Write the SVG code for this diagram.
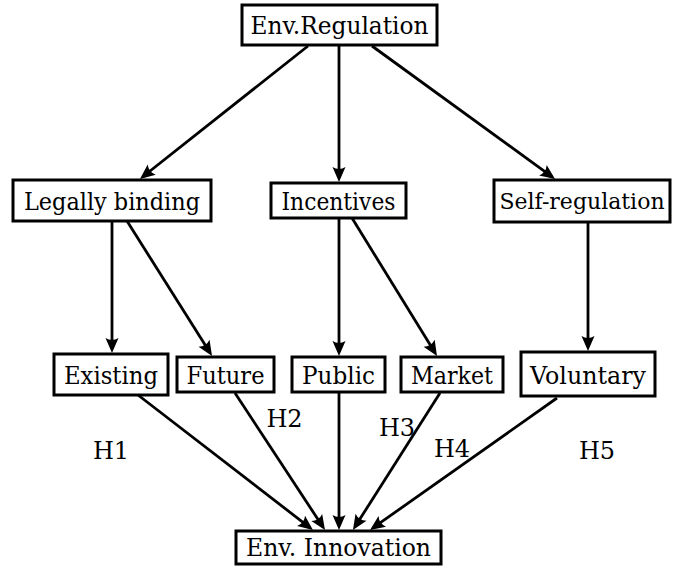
<svg xmlns="http://www.w3.org/2000/svg" width="673" height="566" viewBox="0 0 673 566">
<style>
.box{fill:#fff;stroke:#000;stroke-width:3}
text{font-family:'DejaVu Serif','Liberation Serif',serif;fill:#000;text-anchor:middle}
.lbl{font-size:25px}
.h{font-size:24px}
.edge{stroke:#000;stroke-width:2.8;fill:none;marker-end:url(#ah)}
</style>
<defs>
<marker id="ah" markerUnits="userSpaceOnUse" markerWidth="22" markerHeight="18" viewBox="-14 -9 22 18" refX="0" refY="0" orient="auto">
<path d="M4,0 L-11,-6.5 Q-7,0 -11,6.5 Z" fill="#000"/>
</marker>
</defs>
<rect width="673" height="566" fill="#fff"/>
<g id="connectors">
<line class="edge" x1="308" y1="46" x2="143.1" y2="176.5"/>
<line class="edge" x1="339" y1="46" x2="339" y2="178"/>
<line class="edge" x1="372" y1="46" x2="551.8" y2="176.6"/>
<line class="edge" x1="112" y1="221" x2="112" y2="349"/>
<line class="edge" x1="127" y1="221" x2="209.9" y2="352.6"/>
<line class="edge" x1="339" y1="218" x2="339" y2="352"/>
<line class="edge" x1="352" y1="218" x2="434.9" y2="352.6"/>
<line class="edge" x1="588" y1="222" x2="588" y2="347"/>
<line class="edge" x1="138" y1="395" x2="309.8" y2="527.6"/>
<line class="edge" x1="235" y1="393" x2="322.8" y2="526.7"/>
<line class="edge" x1="339" y1="393" x2="339" y2="526"/>
<line class="edge" x1="440" y1="393" x2="355.1" y2="526.6"/>
<line class="edge" x1="557" y1="398" x2="373.3" y2="527.7"/>
</g>
<g id="envreg"><rect class="box" x="242" y="5" width="195" height="40"/><text class="lbl" x="339.5" y="34" textLength="178" lengthAdjust="spacingAndGlyphs">Env.Regulation</text></g>
<g id="legally"><rect class="box" x="13" y="180" width="198" height="41"/><text class="lbl" x="112" y="210" textLength="176" lengthAdjust="spacingAndGlyphs">Legally binding</text></g>
<g id="incentives"><rect class="box" x="271" y="183" width="135" height="35"/><text class="lbl" x="338.5" y="209.5" textLength="114" lengthAdjust="spacingAndGlyphs">Incentives</text></g>
<g id="selfreg"><rect class="box" x="494" y="180" width="176" height="42"/><text style="font-size:22px" x="582" y="209">Self-regulation</text></g>
<g id="existing"><rect class="box" x="54" y="354" width="114" height="41"/><text class="lbl" x="111" y="384" textLength="94" lengthAdjust="spacingAndGlyphs">Existing</text></g>
<g id="future"><rect class="box" x="177" y="357" width="97" height="35"/><text class="lbl" x="225.5" y="384" textLength="78" lengthAdjust="spacingAndGlyphs">Future</text></g>
<g id="public"><rect class="box" x="292" y="357" width="93" height="35"/><text class="lbl" x="338.5" y="384" textLength="73" lengthAdjust="spacingAndGlyphs">Public</text></g>
<g id="market"><rect class="box" x="401" y="357" width="102" height="35"/><text class="lbl" x="452" y="384" textLength="82" lengthAdjust="spacingAndGlyphs">Market</text></g>
<g id="voluntary"><rect class="box" x="521" y="352" width="134" height="44"/><text class="lbl" x="588" y="384" textLength="116" lengthAdjust="spacingAndGlyphs">Voluntary</text></g>
<g id="envinnov"><rect class="box" x="236" y="531" width="205" height="33"/><text class="lbl" x="338.5" y="556" textLength="185" lengthAdjust="spacingAndGlyphs">Env. Innovation</text></g>
<g id="hlabels">
<text class="h" x="111" y="459">H1</text>
<text class="h" x="284.5" y="427">H2</text>
<text class="h" x="397" y="436">H3</text>
<text class="h" x="452" y="457">H4</text>
<text class="h" x="597" y="459">H5</text>
</g>
</svg>
